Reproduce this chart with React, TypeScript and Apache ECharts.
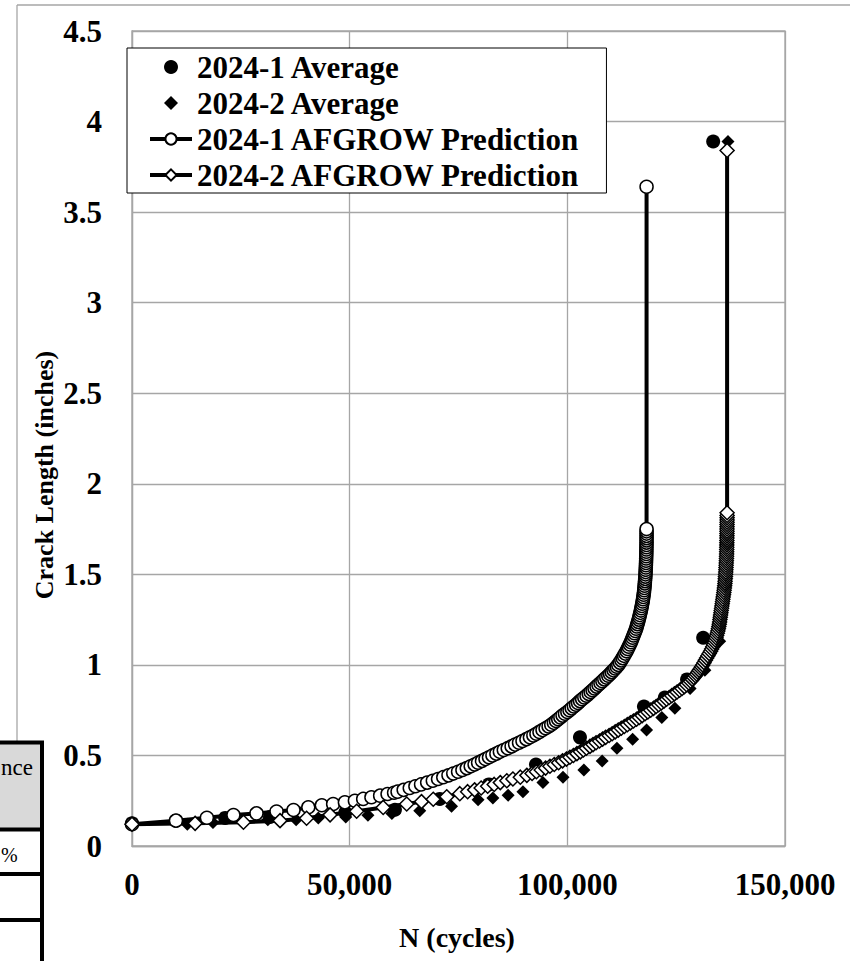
import React, { useEffect, useRef } from "react";
import * as echarts from "echarts";

const FONT = '"Liberation Serif", "Times New Roman", serif';

const SERIES_NAMES = [
  "2024-1 Average",
  "2024-2 Average",
  "2024-1 AFGROW Prediction",
  "2024-2 AFGROW Prediction",
];

const X_TICK_LABELS = ["0", "50,000", "100,000", "150,000"];
const Y_TICK_LABELS = ["0", "0.5", "1", "1.5", "2", "2.5", "3", "3.5", "4", "4.5"];

// [N (cycles), crack length (in)]
const AVG_2024_1: [number, number][] = [
  [0, 0.125], [10100, 0.14], [21400, 0.155], [31700, 0.16], [49000, 0.185],
  [60400, 0.2], [70700, 0.26], [82000, 0.34], [92800, 0.45], [102900, 0.6],
  [117600, 0.77], [122400, 0.82], [127500, 0.92], [131200, 1.15], [133500, 3.89],
];

const AVG_2024_2: [number, number][] = [
  [0, 0.12], [12700, 0.12], [18600, 0.13], [25200, 0.135], [31200, 0.145],
  [37700, 0.145], [42800, 0.155], [49100, 0.16], [54200, 0.17], [59700, 0.18],
  [66100, 0.195], [73400, 0.22], [79500, 0.255], [82900, 0.265], [86400, 0.28],
  [89800, 0.3], [94400, 0.35], [99000, 0.38], [103800, 0.42], [108000, 0.47],
  [111400, 0.54], [115000, 0.59], [118200, 0.64], [121700, 0.71], [124700, 0.76],
  [128200, 0.87], [131600, 0.97], [135000, 1.13], [136900, 3.89],
];

const PRED_2024_1: [number, number][] = [
  [0, 0.12], [10100, 0.14], [17200, 0.156], [23300, 0.171], [28600, 0.18],
  [33200, 0.19], [37100, 0.199], [40500, 0.214], [43600, 0.225], [46200, 0.232],
  [48900, 0.241], [51200, 0.25], [53100, 0.26], [55000, 0.269], [57000, 0.278],
  [58700, 0.287], [60200, 0.294],
  [61000, 0.3], [62400, 0.31], [63800, 0.32], [65100, 0.33], [66400, 0.34],
  [67800, 0.35], [69100, 0.36], [70300, 0.37], [71500, 0.38], [72700, 0.39],
  [73800, 0.4], [74900, 0.41], [75900, 0.42], [76900, 0.43], [77800, 0.44],
  [78700, 0.45], [79500, 0.46], [80400, 0.47], [81200, 0.48], [82000, 0.49],
  [82800, 0.5], [83700, 0.51], [84500, 0.52], [85400, 0.53], [86300, 0.54],
  [87200, 0.55], [88000, 0.56], [88900, 0.57], [89700, 0.58], [90600, 0.59],
  [91400, 0.6], [92200, 0.61], [92900, 0.62], [93600, 0.63], [94300, 0.64],
  [95000, 0.65], [95700, 0.66], [96300, 0.67], [96900, 0.68], [97400, 0.69],
  [97900, 0.7], [98400, 0.71], [98900, 0.72], [99450, 0.73], [100000, 0.74],
  [100500, 0.75], [101000, 0.76], [101500, 0.77], [102000, 0.78], [102450, 0.79],
  [102900, 0.8], [103400, 0.81], [103900, 0.82], [104400, 0.83], [104900, 0.84],
  [105350, 0.85], [105800, 0.86], [106250, 0.87], [106700, 0.88], [107150, 0.89],
  [107600, 0.9], [108050, 0.91], [108500, 0.92], [108950, 0.93], [109400, 0.94],
  [109800, 0.95], [110200, 0.96], [110600, 0.97], [111000, 0.98], [111350, 0.99],
  [111700, 1.0], [112050, 1.0125], [112400, 1.025], [112700, 1.0375], [113000, 1.05],
  [113300, 1.0625], [113600, 1.075], [113850, 1.0875], [114100, 1.1], [114350, 1.1125],
  [114600, 1.125], [114800, 1.1375], [115000, 1.15], [115200, 1.1625], [115400, 1.175],
  [115600, 1.1875], [115800, 1.2], [115950, 1.2125], [116100, 1.225], [116250, 1.2375],
  [116400, 1.25], [116530, 1.2625], [116650, 1.275], [116780, 1.2875], [116900, 1.3],
  [117000, 1.3125], [117100, 1.325], [117200, 1.3375], [117300, 1.35], [117380, 1.3625],
  [117450, 1.375], [117530, 1.3875], [117600, 1.4], [117650, 1.4125], [117700, 1.425],
  [117750, 1.4375], [117800, 1.45], [117840, 1.4625], [117880, 1.475], [117920, 1.4875],
  [117950, 1.5], [117980, 1.5125], [118000, 1.525], [118030, 1.5375], [118050, 1.55],
  [118070, 1.5625], [118090, 1.575], [118100, 1.5875], [118120, 1.6], [118140, 1.6125],
  [118150, 1.625], [118160, 1.6375], [118170, 1.65], [118180, 1.6625], [118190, 1.675],
  [118195, 1.6875], [118200, 1.7], [118200, 1.7125], [118200, 1.725], [118200, 1.7375],
  [118200, 1.75], [118200, 3.64],
];

const PRED_2024_2: [number, number][] = [
  [0, 0.12], [14500, 0.125], [25600, 0.131], [34000, 0.14], [40100, 0.153],
  [45500, 0.172], [51600, 0.192], [57700, 0.213], [63100, 0.232], [66500, 0.245],
  [69200, 0.258], [72300, 0.272], [75300, 0.289],
  [77100, 0.3], [78700, 0.31], [80200, 0.32], [81700, 0.33], [83200, 0.34],
  [84600, 0.35], [86100, 0.36], [87500, 0.37], [89200, 0.38], [90700, 0.39],
  [91900, 0.4], [92900, 0.41], [94000, 0.42], [95000, 0.43], [96000, 0.44],
  [97000, 0.45], [98000, 0.46], [98900, 0.47], [99800, 0.48], [100600, 0.49],
  [101400, 0.5], [102200, 0.51], [103000, 0.52], [103700, 0.53], [104400, 0.54],
  [105200, 0.55], [105900, 0.56], [106600, 0.57], [107400, 0.58], [108100, 0.59],
  [108800, 0.6], [109600, 0.61], [110300, 0.62], [111000, 0.63], [111700, 0.64],
  [112400, 0.65], [113100, 0.66], [113800, 0.67], [114500, 0.68], [115200, 0.69],
  [115900, 0.7], [116550, 0.71], [117200, 0.72], [117850, 0.73], [118500, 0.74],
  [119150, 0.75], [119800, 0.76], [120400, 0.77], [121000, 0.78], [121600, 0.79],
  [122200, 0.8], [122800, 0.81], [123400, 0.82], [124000, 0.83], [124600, 0.84],
  [125200, 0.85], [125800, 0.86], [126350, 0.87], [126900, 0.88], [127400, 0.89],
  [127900, 0.9], [128300, 0.91], [128700, 0.92], [129050, 0.93], [129400, 0.94],
  [129700, 0.95], [130000, 0.96], [130300, 0.97], [130600, 0.98], [130850, 0.99],
  [131100, 1.0], [131400, 1.0125], [131700, 1.025], [132000, 1.0375], [132300, 1.05],
  [132600, 1.0625], [132900, 1.075], [133150, 1.0875], [133400, 1.1], [133600, 1.1125],
  [133800, 1.125], [133980, 1.1375], [134150, 1.15], [134300, 1.1625], [134450, 1.175],
  [134580, 1.1875], [134700, 1.2], [134800, 1.2125], [134900, 1.225], [134980, 1.2375],
  [135050, 1.25], [135130, 1.2625], [135200, 1.275], [135280, 1.2875], [135350, 1.3],
  [135430, 1.3125], [135500, 1.325], [135580, 1.3375], [135650, 1.35], [135730, 1.3625],
  [135800, 1.375], [135880, 1.3875], [135950, 1.4], [136020, 1.4125], [136080, 1.425],
  [136140, 1.4375], [136200, 1.45], [136240, 1.4625], [136280, 1.475], [136320, 1.4875],
  [136350, 1.5], [136390, 1.5125], [136420, 1.525], [136450, 1.5375], [136480, 1.55],
  [136500, 1.5625], [136530, 1.575], [136550, 1.5875], [136570, 1.6], [136590, 1.6125],
  [136600, 1.625], [136610, 1.6375], [136620, 1.65], [136630, 1.6625], [136640, 1.675],
  [136650, 1.6875], [136660, 1.7], [136665, 1.7125], [136670, 1.725], [136675, 1.7375],
  [136680, 1.75], [136685, 1.7625], [136690, 1.775], [136695, 1.7875], [136700, 1.8],
  [136700, 1.8125], [136700, 1.825], [136700, 1.84], [136700, 3.84],
];

const GRID_COLOR = "#a6a6a6";

export default function App() {
  const ref = useRef<HTMLDivElement>(null);

  useEffect(() => {
    document.body.style.margin = "0";
    if (!ref.current) return;
    const chart = echarts.init(ref.current, undefined, { renderer: "svg" });

    const labelStyle = {
      fontFamily: FONT,
      fontWeight: "bold" as const,
      fontSize: 31,
      color: "#000",
    };

    const option: any = {
      animation: false,
      backgroundColor: "#fff",
      grid: {
        left: 132,
        top: 31,
        width: 653,
        height: 815,
        show: true,
        borderColor: GRID_COLOR,
        borderWidth: 1.3,
        backgroundColor: "transparent",
      },
      xAxis: {
        type: "value",
        min: 0,
        max: 150000,
        interval: 50000,
        axisLine: { show: true, lineStyle: { color: GRID_COLOR, width: 1.3 } },
        axisTick: { show: false },
        splitLine: { show: true, lineStyle: { color: GRID_COLOR, width: 1.3 } },
        axisLabel: {
          ...labelStyle,
          margin: 23,
          formatter: (v: number) => X_TICK_LABELS[Math.round(v / 50000)] ?? "",
        },
      },
      yAxis: {
        type: "value",
        min: 0,
        max: 4.5,
        interval: 0.5,
        axisLine: { show: true, lineStyle: { color: GRID_COLOR, width: 1.3 } },
        axisTick: { show: false },
        splitLine: { show: true, lineStyle: { color: GRID_COLOR, width: 1.3 } },
        axisLabel: {
          ...labelStyle,
          margin: 30,
          formatter: (v: number) => Y_TICK_LABELS[Math.round(v / 0.5)] ?? "",
        },
      },
      legend: {
        orient: "vertical",
        left: 127,
        top: 48,
        padding: [1, 26, 0, 21],
        itemGap: 0,
        itemWidth: 42,
        itemHeight: 14,
        backgroundColor: "#fff",
        borderColor: "#000",
        borderWidth: 1,
        lineStyle: { width: 4, color: "#000" },
        textStyle: { ...labelStyle, lineHeight: 36 },
        data: [
          { name: SERIES_NAMES[0], icon: "circle" },
          { name: SERIES_NAMES[1], icon: "path://M7,0 L14,7 L7,14 L0,7 Z" },
          { name: SERIES_NAMES[2] },
          { name: SERIES_NAMES[3] },
        ],
      },
      series: [
        {
          name: SERIES_NAMES[0],
          type: "scatter",
          symbol: "circle",
          symbolSize: 14,
          itemStyle: { color: "#000", opacity: 1 },
          data: AVG_2024_1,
        },
        {
          name: SERIES_NAMES[1],
          type: "scatter",
          symbol: "diamond",
          symbolSize: 13,
          itemStyle: { color: "#000", opacity: 1 },
          data: AVG_2024_2,
        },
        {
          name: SERIES_NAMES[2],
          type: "line",
          symbol: "circle",
          symbolSize: 13,
          showAllSymbol: true,
          itemStyle: { color: "#fff", borderColor: "#000", borderWidth: 1.5 },
          lineStyle: { color: "#000", width: 4 },
          data: PRED_2024_1,
        },
        {
          name: SERIES_NAMES[3],
          type: "line",
          symbol: "diamond",
          symbolSize: 14,
          showAllSymbol: true,
          itemStyle: { color: "#fff", borderColor: "#000", borderWidth: 1.5 },
          lineStyle: { color: "#000", width: 4 },
          data: PRED_2024_2,
        },
      ],
      graphic: [
        // outer chart-area border (partly visible)
        { type: "line", shape: { x1: 17, y1: 5, x2: 850, y2: 5 }, style: { stroke: GRID_COLOR, lineWidth: 1.3 } },
        { type: "line", shape: { x1: 17, y1: 5, x2: 17, y2: 742 }, style: { stroke: GRID_COLOR, lineWidth: 1.3 } },
        // axis titles
        {
          type: "text",
          x: 44,
          y: 475,
          rotation: Math.PI / 2,
          style: {
            text: "Crack Length (inches)",
            fontFamily: FONT,
            fontWeight: "bold",
            fontSize: 26,
            fill: "#000",
            align: "center",
            verticalAlign: "middle",
          },
        },
        {
          type: "text",
          x: 457,
          y: 937,
          style: {
            text: "N (cycles)",
            fontFamily: FONT,
            fontWeight: "bold",
            fontSize: 28,
            fill: "#000",
            align: "center",
            verticalAlign: "middle",
          },
        },
        // neighbouring table (cropped) at bottom-left
        { type: "rect", shape: { x: 0, y: 744, width: 40, height: 84 }, style: { fill: "#d9d9d9" } },
        {
          type: "text",
          x: 33,
          y: 767,
          style: { text: "nce", fontFamily: FONT, fontSize: 23, fill: "#000", align: "right", verticalAlign: "middle" },
        },
        {
          type: "text",
          x: 1,
          y: 855,
          style: { text: "%", fontFamily: FONT, fontSize: 20, fill: "#000", align: "left", verticalAlign: "middle" },
        },
        { type: "line", shape: { x1: 0, y1: 742.5, x2: 44, y2: 742.5 }, style: { stroke: "#000", lineWidth: 4 } },
        { type: "line", shape: { x1: 0, y1: 829.5, x2: 44, y2: 829.5 }, style: { stroke: "#000", lineWidth: 4 } },
        { type: "line", shape: { x1: 0, y1: 874, x2: 44, y2: 874 }, style: { stroke: "#000", lineWidth: 4 } },
        { type: "line", shape: { x1: 0, y1: 920, x2: 44, y2: 920 }, style: { stroke: "#000", lineWidth: 4 } },
        { type: "line", shape: { x1: 42, y1: 741, x2: 42, y2: 961 }, style: { stroke: "#000", lineWidth: 4 } },
      ],
    };

    chart.setOption(option);
    return () => chart.dispose();
  }, []);

  return (
    <div
      ref={ref}
      style={{ position: "absolute", left: 0, top: 0, width: 850, height: 961 }}
    />
  );
}
